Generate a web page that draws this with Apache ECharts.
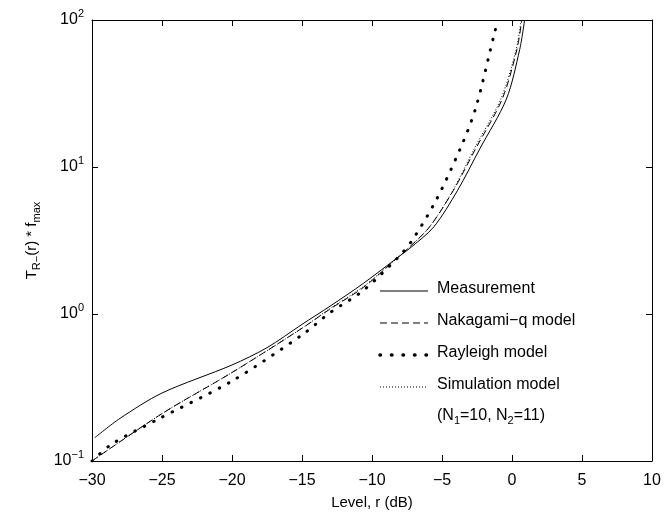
<!DOCTYPE html>
<html>
<head>
<meta charset="utf-8">
<script src="https://cdn.jsdelivr.net/npm/echarts@6/dist/echarts.min.js"></script>
<style>html,body{margin:0;background:#fff}#chart{width:665px;height:522px}</style>
</head>
<body>
<div id="chart"></div>
<script>
// level r (dB) vs T * fmax
const measX = [-29.8, -28, -25, -20, -17.5, -15, -13, -10.6, -8.1, -7.3, -5.6, -3.9, -2.3, -0.4, 0.55, 0.9];
const measY = [0.144, 0.195, 0.29, 0.45, 0.59, 0.85, 1.13, 1.62, 2.45, 2.8, 3.9, 6.9, 13.3, 29, 63, 100];
const nakX = [-30, -25, -20, -15, -13, -10.6, -8.1, -7.5, -5.9, -4.2, -2.6, -0.7, 0.35, 0.7];
const nakY = [0.1, 0.21, 0.40, 0.80, 1.08, 1.52, 2.45, 2.75, 3.9, 6.9, 13.3, 29, 63, 100];
const rayX = [-30, -28.6, -25.4, -20, -15, -13, -10.6, -8.1, -7.1, -5.4, -3.7, -2.6, -1.2, -0.95];
const rayY = [0.1, 0.13, 0.19, 0.35, 0.72, 1.02, 1.45, 2.45, 3.2, 6.0, 13.3, 25, 85, 100];
const simX = [-30, -25, -20, -15, -13, -10.6, -8.1, -7.5, -5.9, -4.2, -2.7, -0.8, 0.3, 0.65];
const simY = [0.1, 0.21, 0.40, 0.80, 1.09, 1.54, 2.45, 2.75, 3.9, 7.0, 13.3, 29, 63, 100];
const xTicks = [-30, -25, -20, -15, -10, -5, 0, 5, 10];

const pairs = (xs, ys) => xs.map((x, i) => [x, ys[i]]);
const font = 'Liberation Sans, Arial, sans-serif';
const chart = echarts.init(document.getElementById('chart'));

const axisCommon = {
  axisLine: { onZero: false, lineStyle: { color: '#000', width: 1 } },
  axisTick: { inside: true, length: 6, lineStyle: { color: '#000' } },
  splitLine: { show: false }
};
const supLabel = v => {
  const e = Math.round(Math.log10(v));
  return '{b|10}{s|' + (e < 0 ? '\u2212' + (-e) : e) + '}';
};
const rich = { b: { fontSize: 16, fontFamily: font, color: '#000' }, s: { fontSize: 11, fontFamily: font, color: '#000', verticalAlign: 'bottom', padding: [0, 0, 12, 0] } };

const legendRows = [
  { text: 'Measurement', y: 291, line: { type: 'solid', width: 1 } },
  { text: 'Nakagami\u2212q model', y: 323, line: { type: [7, 4], width: 1 } },
  { text: 'Rayleigh model', y: 355, line: { type: [0.5, 11], width: 3.5, cap: 'round' } },
  { text: 'Simulation model', y: 387, line: { type: [1, 2], width: 1 } }
];
const graphic = [];
legendRows.forEach(r => {
  graphic.push({ type: 'line', shape: { x1: 380, y1: r.y, x2: 428, y2: r.y },
    style: { stroke: '#000', lineWidth: r.line.width, lineDash: r.line.type === 'solid' ? null : r.line.type, lineCap: r.line.cap || 'butt' } });
  graphic.push({ type: 'text', left: 437, top: r.y - 10, style: { text: r.text, font: '16px ' + font, fill: '#000' } });
});
graphic.push({ type: 'text', left: 437, top: 408, style: { rich: { n: { fontSize: 16, fontFamily: font }, s: { fontSize: 11, fontFamily: font, verticalAlign: 'top', padding: [10, 0, 0, 0] } },
  text: '{n|(N}{s|1}{n|=10, N}{s|2}{n|=11)}' } });

const lineSeries = (name, xs, ys, style) => ({
  name, type: 'line', smooth: 0.3, showSymbol: false,
  data: pairs(xs, ys), lineStyle: Object.assign({ color: '#000', width: 1 }, style)
});

chart.setOption({
  animation: false,
  grid: { left: 92, right: 13, top: 20, bottom: 61 },
  xAxis: [
    Object.assign({ type: 'value', min: -30, max: 10, interval: 5, name: 'Level, r (dB)', nameLocation: 'middle', nameGap: 34,
      nameTextStyle: { fontSize: 15, fontFamily: font, color: '#000' },
      axisLabel: { fontSize: 16, fontFamily: font, color: '#000', margin: 12, formatter: v => String(v).replace('-', '\u2212') } }, axisCommon),
    Object.assign({ type: 'value', min: -30, max: 10, interval: 5, position: 'top', axisLabel: { show: false } }, axisCommon)
  ],
  yAxis: [
    Object.assign({ type: 'log', min: 0.1, max: 100, logBase: 10, name: 'T{sub|R\u2212}(r) * f{sub|max}', nameLocation: 'middle', nameGap: 50,
      nameTextStyle: { fontSize: 15, fontFamily: font, color: '#000', rich: { sub: { fontSize: 11, fontFamily: font, color: '#000', verticalAlign: 'bottom', padding: [10, 0, 0, 0] } } },
      axisLabel: { formatter: supLabel, rich: rich, margin: 8 } }, axisCommon),
    Object.assign({ type: 'log', min: 0.1, max: 100, position: 'right', axisLabel: { show: false } }, axisCommon)
  ],
  graphic: graphic,
  series: [
    lineSeries('Measurement', measX, measY, {}),
    lineSeries('Nakagami-q model', nakX, nakY, { type: [7, 4] }),
    lineSeries('Rayleigh model', rayX, rayY, { width: 3, type: [0.5, 10], cap: 'round' }),
    lineSeries('Simulation model', simX, simY, { type: [1, 2] })
  ]
});
</script>
</body>
</html>
